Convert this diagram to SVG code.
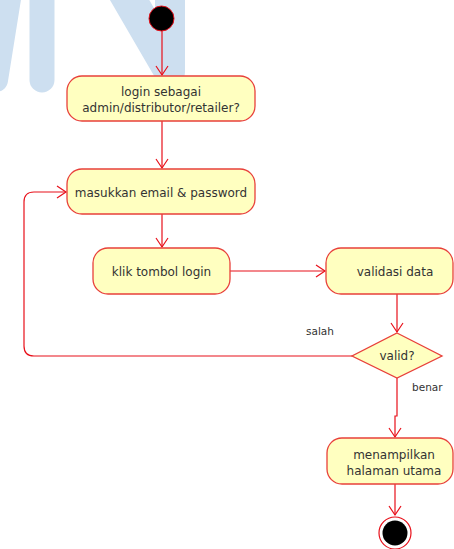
<svg xmlns="http://www.w3.org/2000/svg" width="454" height="549" viewBox="0 0 454 549">
<style>
.wm{stroke:#cddff0;fill:none;stroke-linecap:round}
.act{fill:#ffffc0;stroke:#e8403a;stroke-width:1.3}
.edge{fill:none;stroke:#e8101a;stroke-width:1.2}
.t{font-family:"DejaVu Sans",Verdana,sans-serif;font-size:12px;fill:#333;text-anchor:middle}
.lbl{font-family:"DejaVu Sans",Verdana,sans-serif;font-size:10.5px;fill:#333}
</style>
<defs>
<marker id="arr" markerUnits="userSpaceOnUse" markerWidth="12" markerHeight="14" refX="10" refY="7" orient="auto">
<path d="M1,1 L10,7 L1,13" fill="none" stroke="#e8101a" stroke-width="1.2"/>
</marker>
</defs>
<g id="watermark">
<path class="wm" d="M12,-20 L-4,80" stroke-width="24"/>
<path class="wm" d="M42,-20 L42,80" stroke-width="25"/>
<path class="wm" d="M118,-20 L168,66" stroke-width="34"/>
<path class="wm" d="M170,-20 L170,72" stroke-width="30" stroke-linecap="butt"/>
</g>
<g id="connectors">
<path class="edge" d="M162,31 V75" marker-end="url(#arr)"/>
<path class="edge" d="M162,121 V168" marker-end="url(#arr)"/>
<path class="edge" d="M162,214 V247" marker-end="url(#arr)"/>
<path class="edge" d="M230,271 H325" marker-end="url(#arr)"/>
<path class="edge" d="M397,294 V332" marker-end="url(#arr)"/>
<path class="edge" d="M352,356 H34 Q24,356 24,346 V202 Q24,192 34,192 H66" marker-end="url(#arr)"/>
<path class="edge" d="M397,378 V416 H395 V437" marker-end="url(#arr)"/>
<path class="edge" d="M395,484 V515" marker-end="url(#arr)"/>
<text class="lbl" x="306" y="335">salah</text>
<text class="lbl" x="412" y="391">benar</text>
</g>
<g id="start">
<circle cx="161.5" cy="18.5" r="12.5" fill="#000" stroke="#e8101a" stroke-width="1"/>
</g>
<g id="login-sebagai">
<rect class="act" x="67" y="76" width="188" height="45" rx="15"/>
<text class="t" x="161" y="96">login sebagai</text>
<text class="t" x="161" y="112">admin/distributor/retailer?</text>
</g>
<g id="masukkan">
<rect class="act" x="67" y="169" width="188" height="45" rx="15"/>
<text class="t" x="161" y="197">masukkan email &amp; password</text>
</g>
<g id="klik">
<rect class="act" x="93" y="248" width="137" height="46" rx="15"/>
<text class="t" x="161.5" y="276">klik tombol login</text>
</g>
<g id="validasi">
<rect class="act" x="326" y="248" width="127" height="46" rx="15"/>
<text class="t" x="395" y="276">validasi data</text>
</g>
<g id="valid">
<polygon class="act" points="397,333 442,356 397,378 352,356"/>
<text class="t" x="397" y="360">valid?</text>
</g>
<g id="menampilkan">
<rect class="act" x="327" y="438" width="126" height="46" rx="15"/>
<text class="t" x="394" y="459">menampilkan</text>
<text class="t" x="394" y="475">halaman utama</text>
</g>
<g id="end">
<circle cx="395" cy="533" r="16" fill="#fff" stroke="#e8101a" stroke-width="1.2"/>
<circle cx="395" cy="533" r="12.5" fill="#000"/>
</g>
</svg>
